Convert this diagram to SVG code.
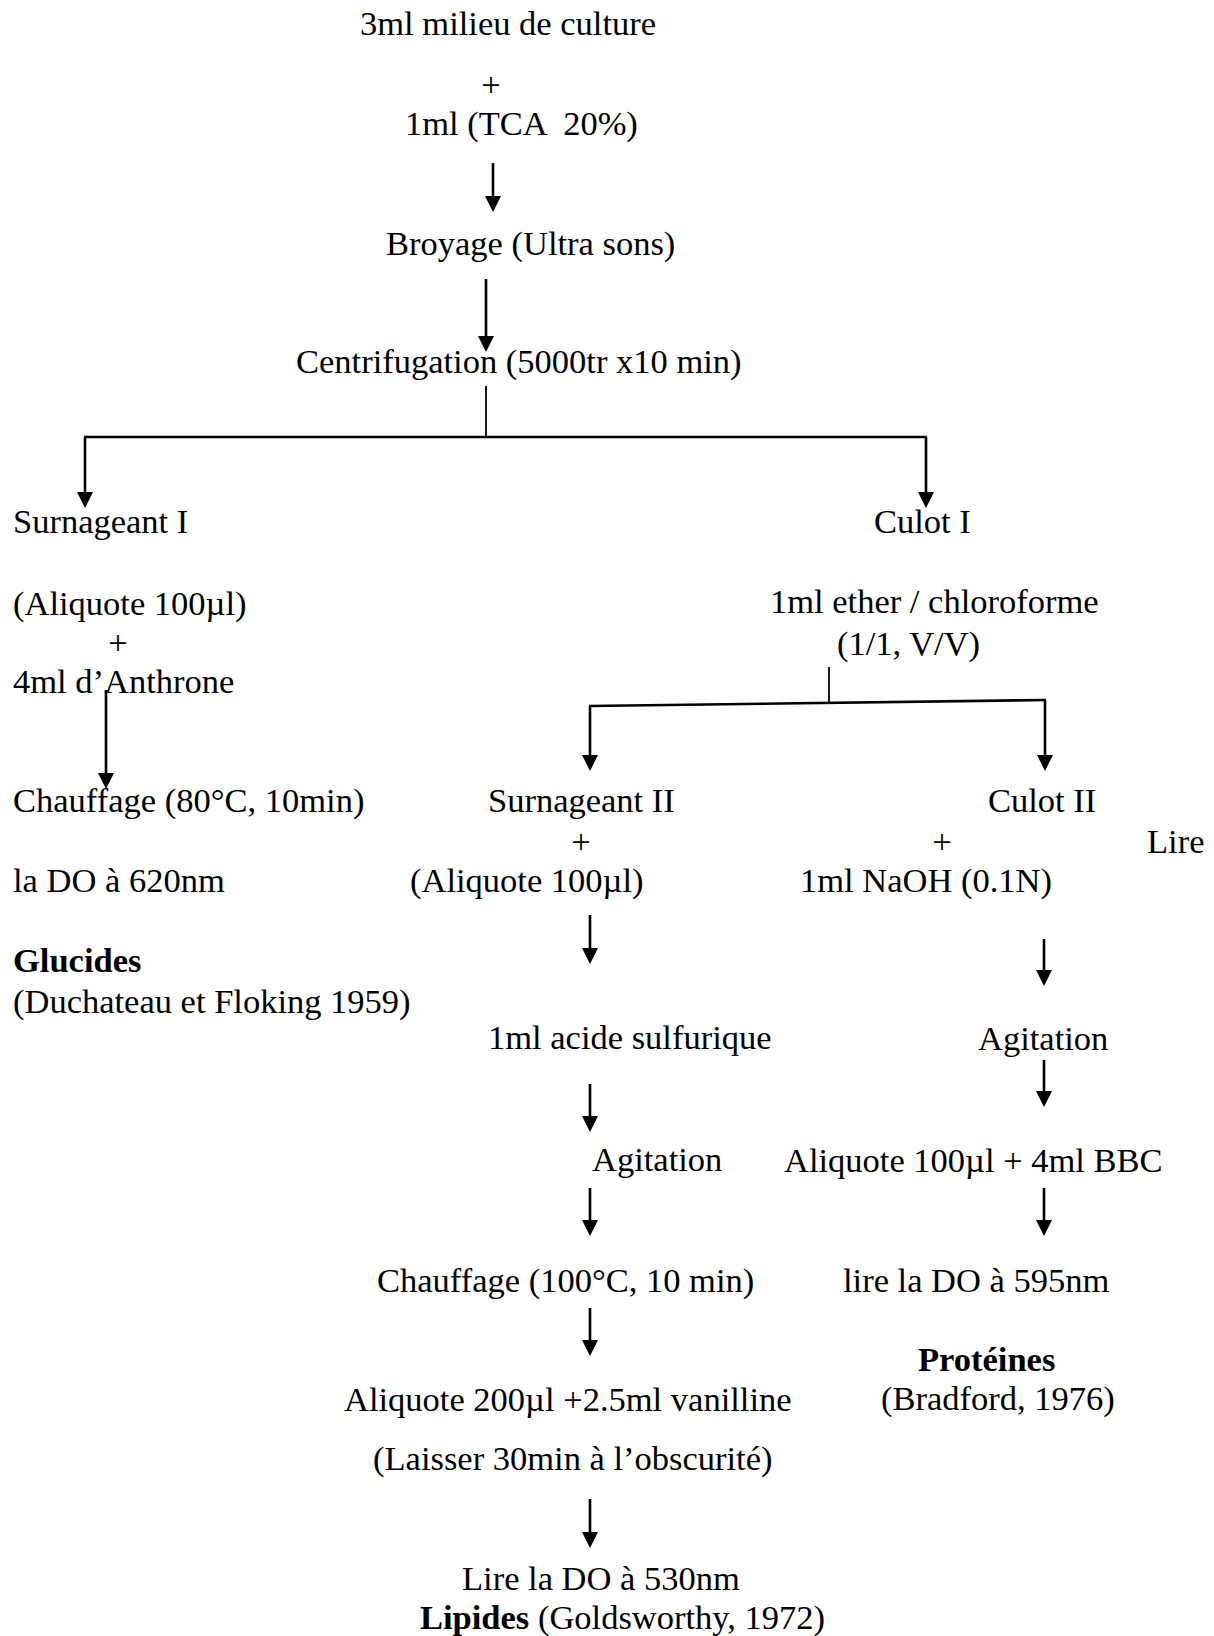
<svg xmlns="http://www.w3.org/2000/svg" width="1214" height="1636" viewBox="0 0 1214 1636">
<style>
text{font-family:"Liberation Serif","Times New Roman",serif;font-size:34.5px;fill:#000;white-space:pre}
.b{font-weight:bold}
.m{text-anchor:middle}
.c line,.c path{stroke:#000;stroke-width:2.6;fill:none}
.c .thin{stroke-width:1.8}
</style>
<defs>
<marker id="ah" markerUnits="userSpaceOnUse" viewBox="0 0 16 16" markerWidth="16" markerHeight="16" refX="6" refY="8" orient="auto">
<path d="M0,0 L16,8 L0,16 z" fill="#000"/>
</marker>
</defs>
<rect width="1214" height="1636" fill="#fff"/>
<g class="c" id="connectors">
<line x1="493" y1="163" x2="493" y2="202" marker-end="url(#ah)"/>
<line x1="486" y1="279" x2="486" y2="342" marker-end="url(#ah)"/>
<line class="thin" x1="486" y1="386" x2="486" y2="437"/>
<line x1="84" y1="437" x2="927" y2="437"/>
<line x1="85" y1="437" x2="85" y2="498" marker-end="url(#ah)"/>
<line x1="926" y1="437" x2="926" y2="498" marker-end="url(#ah)"/>
<line x1="106" y1="690" x2="106" y2="779" marker-end="url(#ah)"/>
<line class="thin" x1="829" y1="667" x2="829" y2="703"/>
<line x1="589" y1="706" x2="1046" y2="700"/>
<line x1="590" y1="706" x2="590" y2="761" marker-end="url(#ah)"/>
<line x1="1045" y1="700" x2="1045" y2="761" marker-end="url(#ah)"/>
<line x1="590" y1="915" x2="590" y2="954" marker-end="url(#ah)"/>
<line x1="590" y1="1084" x2="590" y2="1122" marker-end="url(#ah)"/>
<line x1="590" y1="1188" x2="590" y2="1226" marker-end="url(#ah)"/>
<line x1="590" y1="1308" x2="590" y2="1346" marker-end="url(#ah)"/>
<line x1="590" y1="1499" x2="590" y2="1538" marker-end="url(#ah)"/>
<line x1="1044" y1="939" x2="1044" y2="976" marker-end="url(#ah)"/>
<line x1="1044" y1="1060" x2="1044" y2="1097" marker-end="url(#ah)"/>
<line x1="1044" y1="1188" x2="1044" y2="1226" marker-end="url(#ah)"/>
</g>
<g id="n-start"><text x="360" y="35">3ml milieu de culture</text><text class="m" x="491" y="96">+</text><text x="405" y="135">1ml (TCA  20%)</text></g>
<g id="n-broyage"><text x="386" y="255">Broyage (Ultra sons)</text></g>
<g id="n-centri"><text x="296" y="373">Centrifugation (5000tr x10 min)</text></g>
<g id="n-surn1"><text x="13" y="533">Surnageant I</text></g>
<g id="n-culot1"><text x="874" y="533">Culot I</text></g>
<g id="n-anthrone"><text x="13" y="615">(Aliquote 100µl)</text><text class="m" x="118" y="654">+</text><text x="13" y="693">4ml d’Anthrone</text></g>
<g id="n-ether"><text x="770" y="613">1ml ether / chloroforme</text><text x="837" y="655">(1/1, V/V)</text></g>
<g id="n-chauff80"><text x="13" y="812">Chauffage (80°C, 10min)</text></g>
<g id="n-lire620"><text x="1147" y="853">Lire</text><text x="13" y="892">la DO à 620nm</text></g>
<g id="n-glucides"><text class="b" x="13" y="972">Glucides</text><text x="13" y="1013">(Duchateau et Floking 1959)</text></g>
<g id="n-surn2"><text x="488" y="812">Surnageant II</text><text class="m" x="581" y="853">+</text><text x="410" y="892">(Aliquote 100µl)</text></g>
<g id="n-culot2"><text x="988" y="812">Culot II</text><text class="m" x="942" y="853">+</text><text x="800" y="892">1ml NaOH (0.1N)</text></g>
<g id="n-acide"><text x="488" y="1049">1ml acide sulfurique</text></g>
<g id="n-agit2"><text x="978" y="1050">Agitation</text></g>
<g id="n-agit1"><text x="592" y="1171">Agitation</text></g>
<g id="n-bbc"><text x="784" y="1172">Aliquote 100µl + 4ml BBC</text></g>
<g id="n-chauff100"><text x="377" y="1292">Chauffage (100°C, 10 min)</text></g>
<g id="n-lire595"><text x="843" y="1292">lire la DO à 595nm</text></g>
<g id="n-proteines"><text class="b" x="918" y="1371">Protéines</text><text x="881" y="1410">(Bradford, 1976)</text></g>
<g id="n-vanilline"><text x="344" y="1411">Aliquote 200µl +2.5ml vanilline</text><text x="373" y="1470">(Laisser 30min à l’obscurité)</text></g>
<g id="n-lipides"><text x="462" y="1590">Lire la DO à 530nm</text><text x="420" y="1629"><tspan class="b">Lipides</tspan> (Goldsworthy, 1972)</text></g>
</svg>
